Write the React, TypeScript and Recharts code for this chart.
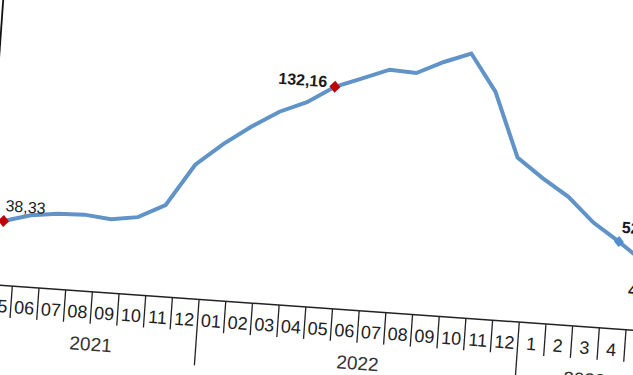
import React from 'react';
import { LineChart, Line, XAxis, YAxis } from 'recharts';

// ---- data ----
const months = ['05', '06', '07', '08', '09', '10', '11', '12', '01', '02', '03', '04', '05', '06', '07', '08', '09', '10', '11', '12', '1', '2', '3', '4', '5'];
const years = ['2021', '2021', '2021', '2021', '2021', '2021', '2021', '2021', '2022', '2022', '2022', '2022', '2022', '2022', '2022', '2022', '2022', '2022', '2022', '2022', '2023', '2023', '2023', '2023', '2023'];
const ppiValues = [38.33, 42.89, 44.92, 45.52, 43.96, 46.31, 54.62, 79.89, 93.53, 105.01, 114.97, 121.82, 132.16, 138.31, 144.61, 143.75, 151.5, 157.69, 136.02, 97.72, 86.46, 76.61, 62.35, 52.11, 40.76];
const labelledPeriods = ['2021-05', '2022-05', '2023-04', '2023-05'];

const data = months.map((m, i) => ({
  period: `${years[i]}-${m.padStart(2, '0')}`,
  month: m,
  year: years[i],
  value: ppiValues[i],
}));

const groups: { year: string; start: number; end: number }[] = [];
years.forEach((y, i) => {
  const last = groups[groups.length - 1];
  if (!last || last.year !== y) groups.push({ year: y, start: i, end: i });
  else last.end = i;
});

// ---- styling ----
const BAND = 26.75;
const FONT = "'Liberation Sans Narrow', 'Arial Narrow', 'Liberation Sans', Arial, sans-serif";
const LINE_COLOR = '#6093c8';

const fmt = (v: number) => v.toFixed(2).replace('.', ',');

const MonthTick = (props: any) => {
  const { x, y, payload } = props;
  const i: number = props.index ?? payload.index;
  const half = BAND / 2;
  const group = groups.find((g) => g.start === i);
  const isLast = i === months.length - 1;
  return (
    <g>
      <line x1={x - half} x2={x - half} y1={y} y2={y + (group ? 66 : 32)} stroke="#222" strokeWidth={1.3} />
      {isLast && <line x1={x + half} x2={x + half} y1={y} y2={y + 66} stroke="#222" strokeWidth={1.3} />}
      <text x={x} y={y + 27} textAnchor="middle" fontSize={18} fill="#222" fontFamily={FONT}>
        {months[i]}
      </text>
      {group && (
        <text x={x + ((group.end - group.start) / 2) * BAND + 2} y={y + 59} textAnchor="middle" fontSize={19} fill="#333" fontFamily={FONT}>
          {group.year}
        </text>
      )}
    </g>
  );
};

const renderDot = (props: any) => {
  const { cx, cy, payload, index } = props;
  const key = `dot-${index}`;
  if (!labelledPeriods.includes(payload.period)) return <g key={key} />;
  const text = fmt(payload.value);
  const diamond = (color: string) => (
    <polygon points={`${cx},${cy - 6} ${cx + 5.5},${cy} ${cx},${cy + 6} ${cx - 5.5},${cy}`} fill={color} />
  );
  const square = (color: string) => (
    <polygon points={`${cx},${cy - 5.5} ${cx + 5},${cy} ${cx},${cy + 5.5} ${cx - 5},${cy}`} fill={color} />
  );
  const label = (dx: number, dy: number, anchor: string, weight: string) => (
    <text x={cx + dx} y={cy + dy} textAnchor={anchor as any} fontSize={16} fontWeight={weight} fill="#1a1a1a" fontFamily={FONT}>
      {text}
    </text>
  );
  switch (payload.period) {
    case '2021-05':
      return (
        <g key={key}>
          {diamond('#c00000')}
          {label(1, -10, 'start', 'normal')}
        </g>
      );
    case '2022-05':
      return (
        <g key={key}>
          {diamond('#c00000')}
          {label(-8, 1, 'end', 'bold')}
        </g>
      );
    case '2023-04':
      return (
        <g key={key}>
          {square('#4f8fcf')}
          {label(2, -9, 'start', 'bold')}
        </g>
      );
    default:
      return (
        <g key={key}>
          {square('#4f8fcf')}
          {label(6, 34, 'middle', 'bold')}
        </g>
      );
  }
};

export default function App() {
  return (
    <div style={{ position: 'fixed', left: 0, top: 0, width: 633, height: 375, overflow: 'hidden', background: '#fff' }}>
      <div
        style={{
          position: 'absolute',
          left: -57.2,
          top: -37.9,
          width: 749,
          height: 402,
          transform: 'rotate(4.07deg)',
          transformOrigin: '40px 322px',
        }}
      >
        <LineChart width={749} height={402} data={data} margin={{ top: 20, right: 40, left: 38, bottom: 0 }}>
          <YAxis
            domain={[0, 180]}
            width={2}
            tick={false}
            tickLine={false}
            axisLine={{ stroke: '#111', strokeWidth: 1.8 }}
          />
          <XAxis
            dataKey="period"
            interval={0}
            tick={<MonthTick />}
            tickLine={false}
            tickSize={0}
            tickMargin={0}
            height={80}
            padding={{ left: 16, right: 11 }}
            axisLine={{ stroke: '#222', strokeWidth: 1.5 }}
          />
          <Line
            type="linear"
            dataKey="value"
            stroke={LINE_COLOR}
            strokeWidth={4}
            dot={renderDot}
            activeDot={false}
            isAnimationActive={false}
          />
        </LineChart>
      </div>
    </div>
  );
}
